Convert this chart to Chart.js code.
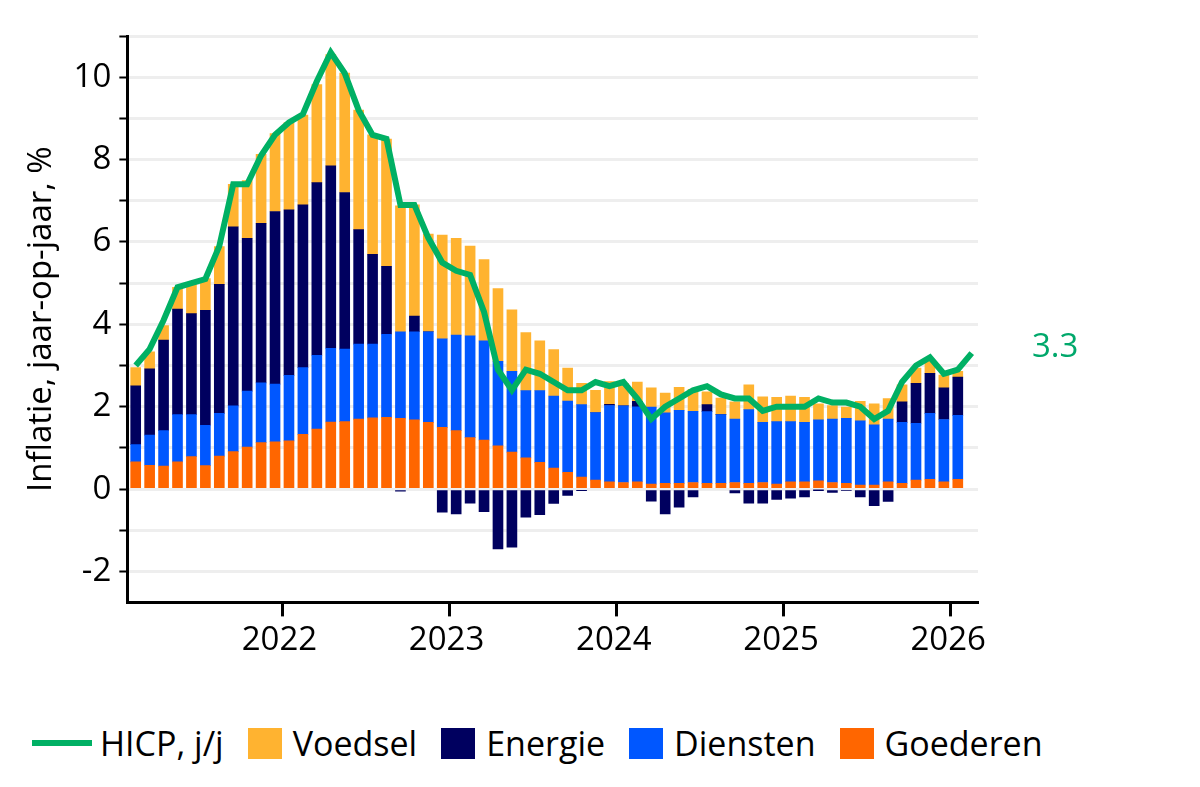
<!DOCTYPE html>
<html><head><meta charset="utf-8">
<script src="https://cdn.jsdelivr.net/npm/chart.js@4"></script>
<style>
body{margin:0;background:#fff;font-family:"Open Sans",sans-serif;}
#wrap{position:absolute;left:0;top:0;width:1200px;height:700px;}
#legend{position:absolute;top:720px;left:32px;display:flex;align-items:center;font-size:34px;color:#000;white-space:nowrap;}
#legend .it{display:flex;align-items:center;margin-right:24px;}
#legend .ln{width:60px;height:6px;background:#00b064;margin-right:8px;}
#legend .bx{width:34px;height:31px;margin-right:11px;}
</style></head><body>
<div id="wrap"><canvas id="c"></canvas></div>
<div id="legend">
<div class="it"><div class="ln"></div>HICP, j/j</div>
<div class="it"><div class="bx" style="background:#ffb330"></div>Voedsel</div>
<div class="it"><div class="bx" style="background:#00005f"></div>Energie</div>
<div class="it"><div class="bx" style="background:#0057ff"></div>Diensten</div>
<div class="it"><div class="bx" style="background:#ff6600"></div>Goederen</div>
</div>
<script>
const months = [];
for (let i = 0; i < 61; i++) { const m = (7 + i) % 12, y = 2021 + Math.floor((7 + i) / 12); months.push(y + '-' + String(m + 1).padStart(2, '0')); }
const yearLabels = ['2022', '2023', '2024', '2025', '2026'];
const hicp = [3.0,3.4,4.1,4.9,5.0,
 5.1,5.9,7.4,7.4,8.1,8.6,8.9,9.1,9.9,10.6,10.1,9.2,
 8.6,8.5,6.9,6.9,6.1,5.5,5.3,5.2,4.3,2.9,2.4,2.9,
 2.8,2.6,2.4,2.4,2.6,2.5,2.6,2.2,1.7,2.0,2.2,2.4,
 2.5,2.3,2.2,2.2,1.9,2.0,2.0,2.0,2.2,2.1,2.1,2.0,
 1.7,1.9,2.6,3.0,3.2,2.8,2.9,3.3];
const goederen = [0.66,0.58,0.56,0.66,0.79,
 0.57,0.80,0.91,1.02,1.13,1.15,1.17,1.33,1.46,1.63,1.64,1.70,
 1.73,1.74,1.72,1.68,1.62,1.50,1.42,1.25,1.19,1.05,0.90,0.76,
 0.65,0.51,0.41,0.29,0.22,0.18,0.16,0.18,0.12,0.14,0.14,0.16,
 0.14,0.14,0.16,0.14,0.16,0.12,0.18,0.18,0.20,0.16,0.14,0.10,
 0.10,0.18,0.14,0.22,0.24,0.18,0.24];
const diensten = [0.42,0.73,0.86,1.15,1.02,
 0.98,1.04,1.11,1.36,1.45,1.40,1.59,1.62,1.79,1.79,1.76,1.82,
 1.79,2.02,2.10,2.14,2.20,2.15,2.32,2.47,2.41,2.05,1.96,1.63,
 1.74,1.75,1.73,1.76,1.64,1.85,1.86,1.82,1.87,1.71,1.77,1.73,
 1.74,1.67,1.54,1.79,1.46,1.52,1.46,1.44,1.48,1.54,1.58,1.56,
 1.46,1.52,1.48,1.38,1.60,1.51,1.55];
const energie = [1.43,1.61,2.20,2.56,2.45,
 2.79,3.13,4.35,3.71,3.87,4.19,4.02,3.95,4.19,4.43,3.80,2.78,
 2.18,1.65,-0.05,0.38,0,-0.56,-0.60,-0.34,-0.55,-1.45,-1.41,-0.68,
 -0.62,-0.35,-0.15,-0.03,0,0.03,0,0.13,-0.29,-0.60,-0.44,-0.19,
 0.17,0,-0.09,-0.34,-0.34,-0.25,-0.22,-0.19,-0.02,-0.08,-0.04,-0.19,
 -0.40,-0.30,0.50,0.97,0.97,0.77,0.93];
const voedsel = [0.44,0.41,0.35,0.53,0.76,
 0.77,0.92,1.03,1.40,1.68,1.89,2.12,2.18,2.38,2.70,2.90,2.90,
 2.90,3.09,3.06,2.70,2.37,2.52,2.35,2.18,1.97,1.77,1.49,1.41,
 1.21,1.13,0.80,0.52,0.54,0.55,0.55,0.47,0.47,0.48,0.56,0.53,
 0.31,0.40,0.42,0.60,0.62,0.59,0.62,0.61,0.39,0.33,0.27,0.47,
 0.51,0.50,0.41,0.37,0.29,0.31,0.14];

const pts = arr => arr.map((v, i) => ({x: i, y: v}));
const FONT = "'Open Sans', sans-serif";
const FS = 33;
const endLabel = {
  id: 'endLabel',
  afterDatasetsDraw(chart) {
    const {ctx, scales} = chart;
    const v = hicp[hicp.length - 1];
    ctx.save();
    ctx.fillStyle = '#00a86b';
    ctx.font = FS + 'px ' + FONT;
    ctx.textAlign = 'left'; ctx.textBaseline = 'middle';
    ctx.fillText(v.toFixed(1), 1032, scales.y.getPixelForValue(v) - 6);
    ctx.restore();
  }
};
const barDs = (label, data, color) => ({type: 'bar', label, data: pts(data), backgroundColor: color, barThickness: 10, stack: 'b', order: 2});
new Chart(document.getElementById('c'), {
  data: {datasets: [
    {type: 'line', label: 'HICP, j/j', data: pts(hicp), borderColor: '#00b064', borderWidth: 6, pointRadius: 0, stack: 'l', order: 1, borderJoinStyle: 'miter', tension: 0},
    barDs('Goederen', goederen, '#ff6600'),
    barDs('Diensten', diensten, '#0057ff'),
    barDs('Energie', energie, '#00005f'),
    barDs('Voedsel', voedsel, '#ffb330')
  ]},
  options: {
    responsive: true, maintainAspectRatio: false, animation: false,
    layout: {padding: {left: 18, right: 222, top: 36, bottom: 36}},
    plugins: {legend: {display: false}, tooltip: {enabled: false}},
    scales: {
      x: {type: 'linear', min: -0.6, max: 60.45, stacked: true, offset: false,
        afterBuildTicks: ax => { ax.ticks = [4.5, 16.5, 28.5, 40.5, 52.5].map(v => ({value: v})); },
        ticks: {font: {size: FS, family: FONT}, color: '#000', labelOffset: 81, padding: 4, maxRotation: 0, autoSkip: false,
          callback: (v) => yearLabels[Math.round((v - 4.5) / 12)]},
        grid: {drawOnChartArea: false, tickLength: 14, tickColor: '#000', tickWidth: 3},
        border: {color: '#000', width: 3}},
      y: {min: -2.75, max: 11, stacked: true,
        afterBuildTicks: ax => { const t = []; for (let v = -2; v <= 11; v++) t.push({value: v}); ax.ticks = t; },
        ticks: {font: {size: FS, family: FONT}, color: '#000', padding: 8, autoSkip: false,
          callback: v => (v % 2 === 0 ? String(v) : '')},
        grid: {color: '#eeeeee', lineWidth: 3, tickColor: '#000', tickLength: 8, tickWidth: 2},
        border: {color: '#000', width: 3},
        title: {display: true, text: 'Inflatie, jaar-op-jaar, %', font: {size: FS, family: FONT}, color: '#000', padding: 4}}
    }
  },
  plugins: [endLabel]
});
</script></body></html>
